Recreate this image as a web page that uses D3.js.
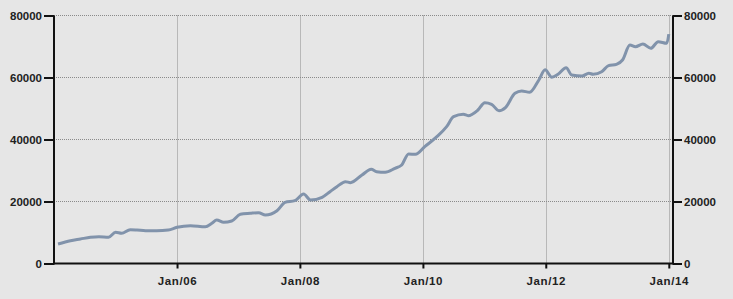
<!DOCTYPE html>
<html>
<head>
<meta charset="utf-8">
<script src="https://cdn.jsdelivr.net/npm/d3@7"></script>
<style>
  body { margin: 0; background: #e6e6e6; }
  svg { display: block; }
  .tk text { font-family: "Liberation Sans", Arial, sans-serif; font-weight: bold; font-size: 11.5px; fill: #222; }
  .xk text { letter-spacing: 0.6px; }
</style>
</head>
<body>
<div id="chart"></div>
<script>
// values
const dates = ["2004-01-25","2004-04-08","2004-06-06","2004-08-04","2004-09-24","2004-11-20",
  "2005-01-01","2005-02-06","2005-03-29","2005-05-08","2005-06-28","2005-09-02","2005-11-10",
  "2006-01-01","2006-03-22","2006-06-18","2006-07-27","2006-08-25","2006-10-05","2006-11-22",
  "2007-01-12","2007-03-12","2007-05-01","2007-06-10","2007-08-18","2007-10-05","2007-12-02",
  "2008-01-23","2008-03-04","2008-05-12","2008-06-28","2008-08-08","2008-09-28","2008-10-27",
  "2009-01-04","2009-02-28","2009-04-01","2009-05-22","2009-07-19","2009-08-28","2009-10-08","2009-11-18",
  "2010-01-12","2010-03-25","2010-05-22","2010-07-02","2010-08-29","2010-09-27","2010-11-24",
  "2011-01-04","2011-02-13","2011-03-29","2011-05-08","2011-07-02","2011-08-11","2011-09-27","2011-11-21","2011-12-28",
  "2012-02-06","2012-03-14","2012-05-01","2012-06-03","2012-08-04","2012-09-13","2012-10-08","2012-11-28",
  "2013-01-08","2013-02-24","2013-04-01","2013-05-15","2013-06-17","2013-07-31","2013-09-16","2013-10-30","2013-12-20",
  "2014-01-01"];
const values = [6300,7350,7900,8450,8650,8450,
  10060,9740,10900,10800,10580,10580,10800,
  11680,12200,11870,12970,14030,13290,13710,
  15870,16190,16390,15650,17030,19740,20260,
  22420,20480,21350,23170,24780,26390,26070,
  28550,30390,29620,29420,30710,31780,35330,35230,
  37680,40900,44130,47360,48130,47680,49520,
  51870,51360,49290,50390,54910,55650,55230,59200,62500,
  60070,61040,63170,60810,60490,61360,61040,61880,
  63810,64260,65650,70490,69940,70810,69420,71550,71030,
  74000];
const yTicks = [0, 20000, 40000, 60000, 80000];
const xTicks = ["2006-01-01","2008-01-01","2010-01-01","2012-01-01","2014-01-01"];

const width = 733, height = 299;
const parse = d3.timeParse("%Y-%m-%d");
const data = dates.map((d, i) => ({date: parse(d), value: values[i]}));

const svg = d3.select("#chart").append("svg")
    .attr("width", width)
    .attr("height", height);

const x = d3.scaleTime()
    .domain([new Date(2004, 0, 1), new Date(2014, 0, 26)])
    .range([54, 673]);
const y = d3.scaleLinear()
    .domain([0, 80000])
    .range([263.5, 15.5]);

// grid (dotted)
svg.append("g")
  .selectAll("line.h")
  .data(yTicks.slice(1))
  .enter().append("line")
    .attr("x1", 54).attr("x2", 673)
    .attr("y1", d => y(d)).attr("y2", d => y(d))
    .attr("stroke", "#8a8a8a").attr("stroke-dasharray", "1,1");
svg.append("g")
  .selectAll("line.v")
  .data(xTicks.map(parse))
  .enter().append("line")
    .attr("x1", d => Math.round(x(d)) + 0.5).attr("x2", d => Math.round(x(d)) + 0.5)
    .attr("y1", y(80000)).attr("y2", y(0))
    .attr("stroke", "#8a8a8a").attr("stroke-dasharray", "1,1");

// line
const line = d3.line()
    .x(d => x(d.date))
    .y(d => y(d.value))
    .curve(d3.curveMonotoneX);
svg.append("path")
    .datum(data)
    .attr("fill", "none")
    .attr("stroke", "#8193ab")
    .attr("stroke-width", 3)
    .attr("stroke-linejoin", "round")
    .attr("d", line);

// axes
const axL = svg.append("g").attr("class", "tk")
    .attr("transform", "translate(54,0)")
    .call(d3.axisLeft(y).tickValues(yTicks).tickFormat(d3.format("d")).tickSize(10).tickPadding(2));
const axR = svg.append("g").attr("class", "tk")
    .attr("transform", "translate(673,0)")
    .call(d3.axisRight(y).tickValues(yTicks).tickFormat(d3.format("d")).tickSize(9).tickPadding(2));
const axB = svg.append("g").attr("class", "tk xk")
    .attr("transform", "translate(0,263.5)")
    .call(d3.axisBottom(x).tickValues(xTicks.map(parse)).tickFormat(d3.timeFormat("Jan/%y")).tickSize(5).tickPadding(8));

[axL, axR, axB].forEach(a => {
  a.select(".domain").attr("stroke", "#111").attr("stroke-width", 2);
  a.selectAll(".tick line").attr("stroke", "#111").attr("stroke-width", 2);
});
axL.select(".domain").attr("d", "M0,15.5V264.5");
axR.select(".domain").attr("d", "M0,15.5V264.5");
axB.select(".domain").attr("d", "M53,0H674");
</script>
</body>
</html>
